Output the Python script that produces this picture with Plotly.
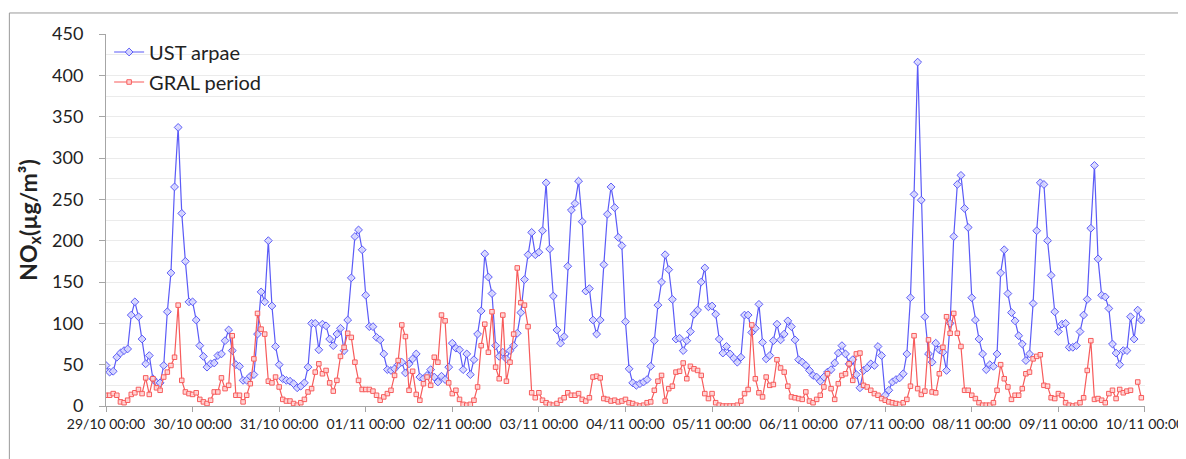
import pandas as pd
import plotly.graph_objects as go

# hourly NOx, 29/10 00:00 -> 09/11 23:00 (one row per day)
ust_arpae = [
    49, 41, 42, 59, 64, 67, 69, 110, 126, 108, 81, 51, 61, 33, 28, 28, 49, 114, 161, 265, 337, 233, 175, 126,
    126, 104, 73, 60, 47, 51, 52, 61, 63, 79, 92, 67, 50, 48, 31, 31, 36, 38, 87, 138, 126, 200, 121, 72,
    50, 33, 31, 30, 27, 22, 24, 28, 47, 100, 100, 68, 99, 97, 81, 73, 87, 94, 67, 104, 155, 205, 213, 189,
    134, 96, 96, 83, 80, 63, 44, 43, 45, 50, 53, 40, 51, 57, 63, 35, 33, 37, 44, 35, 29, 36, 32, 47,
    76, 70, 68, 44, 63, 38, 56, 87, 115, 184, 156, 136, 73, 60, 65, 57, 67, 73, 88, 113, 153, 183, 210, 183,
    186, 212, 270, 190, 133, 92, 76, 84, 169, 237, 245, 272, 223, 139, 142, 104, 87, 104, 171, 232, 265, 240, 204, 194,
    102, 45, 28, 25, 27, 29, 32, 48, 79, 122, 150, 183, 165, 129, 81, 82, 67, 79, 90, 111, 116, 150, 167, 120,
    121, 111, 81, 64, 72, 63, 58, 53, 59, 110, 110, 89, 94, 123, 77, 57, 61, 79, 99, 80, 87, 103, 96, 80,
    56, 53, 49, 43, 37, 35, 30, 35, 41, 44, 52, 64, 73, 63, 51, 56, 38, 22, 43, 46, 51, 49, 72, 61,
    13, 19, 29, 32, 34, 39, 63, 131, 256, 416, 249, 108, 63, 53, 76, 68, 65, 43, 100, 205, 268, 279, 239, 216,
    131, 104, 81, 63, 44, 50, 48, 63, 161, 189, 136, 113, 103, 85, 75, 55, 63, 124, 212, 270, 268, 200, 158, 114,
    90, 99, 100, 71, 71, 73, 90, 110, 129, 215, 291, 178, 134, 132, 118, 75, 64, 50, 67, 67, 108, 81, 116, 104,
]

gral_period = [
    13, 13, 15, 13, 5, 4, 7, 14, 16, 20, 15, 34, 14, 33, 22, 19, 35, 41, 49, 59, 122, 31, 17, 15,
    14, 16, 8, 5, 3, 7, 17, 17, 34, 21, 25, 85, 13, 13, 5, 13, 27, 57, 112, 93, 87, 30, 28, 35,
    23, 8, 6, 6, 3, 1, 4, 8, 17, 21, 41, 51, 39, 43, 28, 18, 31, 60, 71, 88, 83, 53, 31, 20,
    20, 20, 18, 13, 7, 11, 15, 19, 37, 55, 98, 84, 19, 42, 14, 7, 27, 35, 25, 59, 53, 110, 103, 28,
    15, 19, 8, 2, 1, 2, 7, 23, 73, 99, 65, 114, 47, 33, 110, 30, 53, 87, 167, 125, 122, 96, 16, 10,
    16, 7, 4, 2, 1, 3, 7, 10, 16, 13, 13, 15, 8, 6, 10, 35, 36, 34, 9, 8, 6, 7, 5, 6,
    8, 4, 3, 1, 0, 1, 4, 5, 19, 30, 37, 6, 21, 24, 41, 42, 52, 33, 48, 45, 43, 37, 15, 9,
    15, 4, 1, 0, 0, 0, 0, 1, 6, 15, 20, 98, 33, 16, 11, 35, 25, 26, 56, 46, 41, 24, 11, 10,
    9, 8, 17, 6, 4, 8, 13, 23, 39, 21, 8, 27, 37, 39, 51, 31, 63, 64, 25, 23, 19, 15, 13, 9,
    7, 5, 4, 3, 2, 4, 8, 24, 85, 21, 14, 18, 80, 17, 16, 39, 71, 108, 88, 112, 88, 72, 19, 19,
    13, 9, 4, 1, 1, 1, 4, 19, 50, 33, 23, 8, 13, 13, 21, 39, 41, 57, 60, 62, 25, 24, 10, 9,
    15, 13, 4, 1, 0, 1, 4, 10, 43, 79, 8, 9, 7, 4, 15, 19, 9, 20, 16, 18, 19, None, 29, 10,
]

times = pd.date_range("2019-10-29 00:00", periods=len(ust_arpae), freq="h")

FONT = "Lato"
AXIS_GREY = "#a6a6a6"
GRID_GREY = "#ebebeb"

fig = go.Figure()

fig.add_trace(go.Scatter(
    x=times, y=ust_arpae, name="UST arpae", mode="lines+markers",
    legendgroup="a",
    line=dict(color="#5b5bf7", width=1.2),
    marker=dict(symbol="diamond", size=6, color="rgba(215,215,255,0.9)",
                line=dict(color="#5b5bf7", width=1)),
))
fig.add_trace(go.Scatter(
    x=times, y=gral_period, name="GRAL period", mode="lines+markers",
    legendgroup="b",
    line=dict(color="#f75b5b", width=1.2),
    marker=dict(symbol="square", size=4.5, color="rgba(255,215,215,0.9)",
                line=dict(color="#f75b5b", width=1)),
))

# page body has an 8px margin, so the figure is 8px smaller than the window
fig.update_layout(
    width=1178, height=451,
    margin=dict(l=98, r=41, t=26, b=53, autoexpand=False),
    paper_bgcolor="white", plot_bgcolor="white",
    font=dict(family=FONT, color="#222222"),
    showlegend=True,
    legend=dict(x=0.003, y=1.004, xanchor="left", yanchor="top",
                bgcolor="rgba(0,0,0,0)", font=dict(size=20, family=FONT),
                traceorder="grouped", tracegroupgap=1, itemwidth=30),
)

fig.update_xaxes(
    type="date", automargin=False,
    range=[pd.Timestamp("2019-10-29 00:00"), pd.Timestamp("2019-11-10 00:01")],
    tick0="2019-10-29", dtick=86400000, tickformat="%d/%m %H:%M",
    ticklabeloverflow="allow",
    showline=True, linecolor=AXIS_GREY, linewidth=1,
    ticks="outside", ticklen=5, tickcolor=AXIS_GREY,
    showgrid=False, zeroline=False,
    tickfont=dict(size=14, family=FONT, color="#222222"),
)

fig.update_yaxes(
    range=[0, 450], dtick=50, automargin=False,
    showline=True, linecolor=AXIS_GREY, linewidth=1,
    ticks="outside", ticklen=6, tickcolor=AXIS_GREY,
    ticklabelstandoff=12,
    showgrid=True, gridcolor=GRID_GREY, gridwidth=1,
    minor=dict(dtick=25, showgrid=True, gridcolor=GRID_GREY, ticks=""),
    zeroline=False,
    tickfont=dict(size=18, family=FONT, color="#222222"),
    title=dict(text="<b>NO<sub>x</sub>(µg/m³)</b>", font=dict(size=23, family=FONT),
               standoff=8),
)

# outer chart frame (top and left edges visible in the crop)
fig.add_shape(type="line", xref="paper", yref="paper",
              x0=-0.093, x1=1.1, y0=1.0565, y1=1.0565,
              line=dict(color="#9a9a9a", width=1))
fig.add_shape(type="line", xref="paper", yref="paper",
              x0=-0.093, x1=-0.093, y0=1.0565, y1=-0.2,
              line=dict(color="#9a9a9a", width=1))

fig.write_html("out.html")
